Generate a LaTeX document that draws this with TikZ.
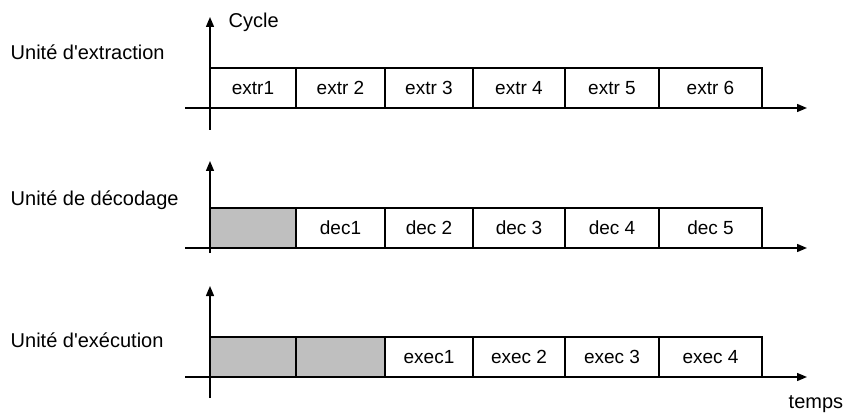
\documentclass[tikz,border=0pt]{standalone}
\usepackage{fontspec}
\setmainfont{Liberation Sans}
\usetikzlibrary{arrows.meta}
\begin{document}
\begin{tikzpicture}[x=1pt,y=-1pt,
  line width=1.4pt,
  axis/.style={-{Triangle[length=10pt,width=8pt]}},
  cell/.style={draw, rectangle, anchor=south west, inner sep=0pt, outer sep=0pt,
               minimum height=40pt, font=\fontsize{19}{22}\selectfont},
  idle/.style={cell, fill=black!25},
  unit/.style={anchor=west, inner sep=0pt, font=\fontsize{20}{24}\selectfont}]
\useasboundingbox (0,0) rectangle (846,414);

% ---- extraction unit ----
\coordinate (v1s) at (210,130); \coordinate (v1e) at (210,17);
\coordinate (h1s) at (185,108); \coordinate (h1e) at (807,108);
\draw[axis] (v1s) -- (v1e);
\node[cell, minimum width=86pt] (e1) at (210,108) {extr1};
\node[cell, minimum width=89pt] (e2) at (296,108) {extr 2};
\node[cell, minimum width=88pt] (e3) at (385,108) {extr 3};
\node[cell, minimum width=92pt] (e4) at (473,108) {extr 4};
\node[cell, minimum width=94pt] (e5) at (565,108) {extr 5};
\node[cell, minimum width=103pt] (e6) at (659,108) {extr 6};
\draw[axis] (h1s) -- (h1e);
\node[unit] (cyc) at (228,22) {Cycle};
\node[unit] (u1) at (10,52) {Unité d\textquotesingle extraction};

% ---- decoding unit ----
\coordinate (v2s) at (210,253); \coordinate (v2e) at (210,161);
\coordinate (h2s) at (185,248); \coordinate (h2e) at (807,248);
\draw[axis] (v2s) -- (v2e);
\node[idle, minimum width=86pt] (d0) at (210,248) {};
\node[cell, minimum width=89pt] (d1) at (296,248) {dec1};
\node[cell, minimum width=88pt] (d2) at (385,248) {dec 2};
\node[cell, minimum width=92pt] (d3) at (473,248) {dec 3};
\node[cell, minimum width=94pt] (d4) at (565,248) {dec 4};
\node[cell, minimum width=103pt] (d5) at (659,248) {dec 5};
\draw[axis] (h2s) -- (h2e);
\node[unit] (u2) at (10,200) {Unité de décodage};

% ---- execution unit ----
\coordinate (v3s) at (210,398); \coordinate (v3e) at (210,286);
\coordinate (h3s) at (185,377); \coordinate (h3e) at (807,377);
\draw[axis] (v3s) -- (v3e);
\node[idle, minimum width=86pt] (x0) at (210,377) {};
\node[idle, minimum width=89pt] (x00) at (296,377) {};
\node[cell, minimum width=88pt] (x1) at (385,377) {exec1};
\node[cell, minimum width=92pt] (x2) at (473,377) {exec 2};
\node[cell, minimum width=94pt] (x3) at (565,377) {exec 3};
\node[cell, minimum width=103pt] (x4) at (659,377) {exec 4};
\draw[axis] (h3s) -- (h3e);
\node[unit] (u3) at (10,340) {Unité d\textquotesingle exécution};
\node[unit] (tps) at (788,404) {temps};
\end{tikzpicture}
\end{document}
